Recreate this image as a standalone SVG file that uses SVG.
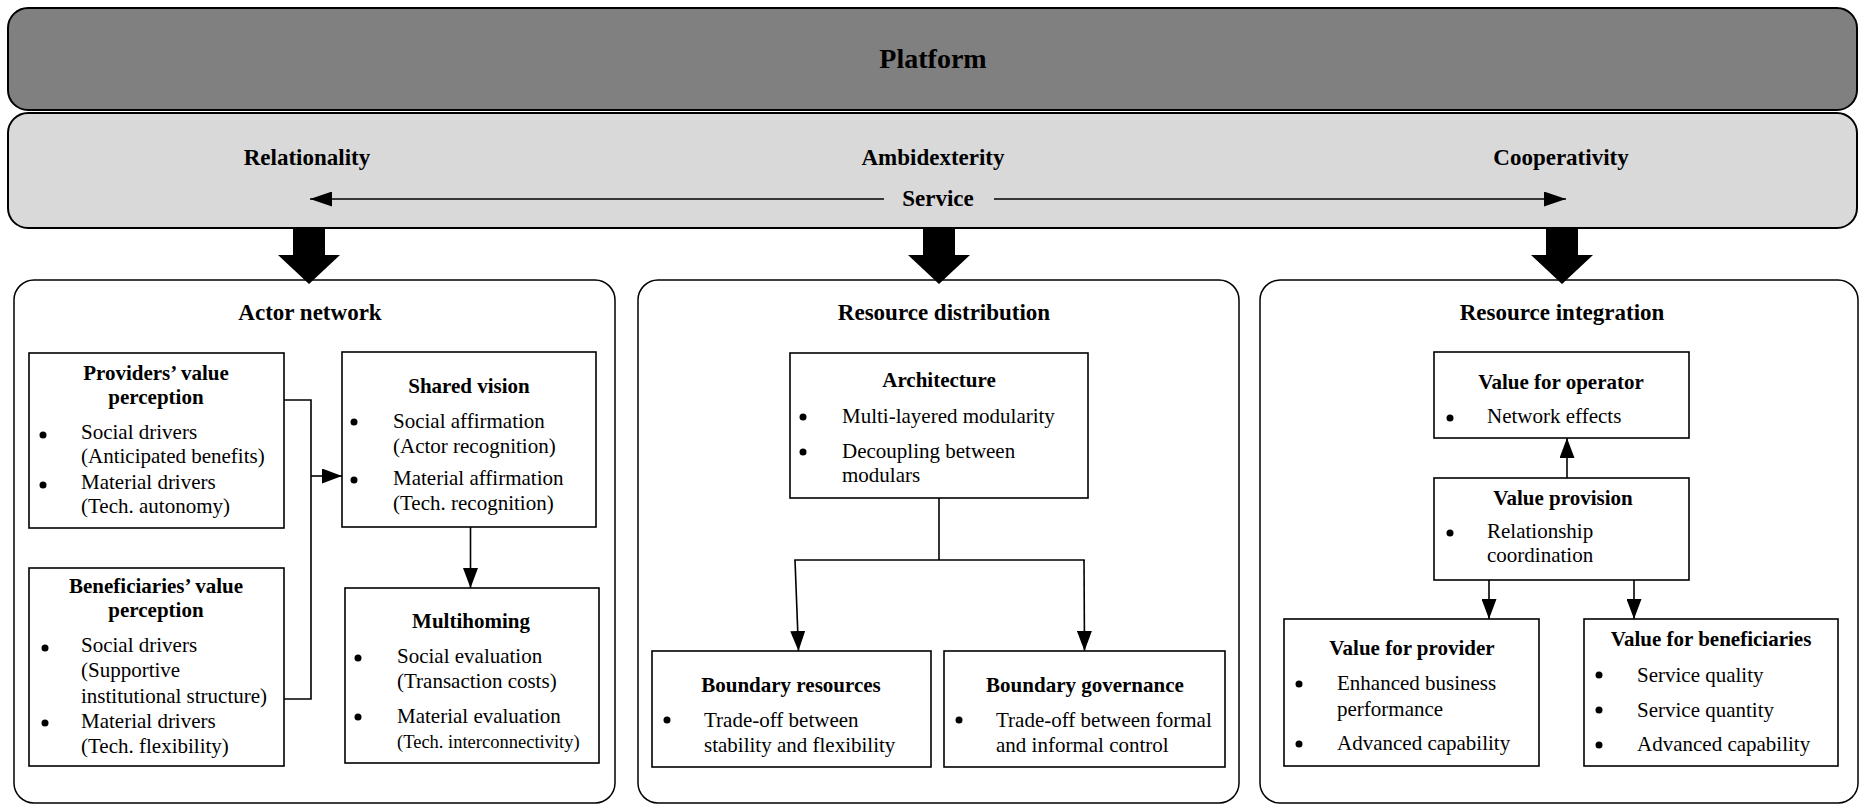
<svg xmlns="http://www.w3.org/2000/svg" width="1860" height="805" viewBox="0 0 1860 805">
<defs>
<marker id="ah" viewBox="0 0 20 15" markerWidth="20" markerHeight="15" refX="20" refY="7.5" orient="auto-start-reverse" markerUnits="userSpaceOnUse">
<path d="M0,0 L20,7.5 L0,15 z" fill="#000"/>
</marker>
<marker id="ahs" viewBox="0 0 22 15" markerWidth="22" markerHeight="15" refX="22" refY="7.5" orient="auto-start-reverse" markerUnits="userSpaceOnUse">
<path d="M0,0 L22,7.5 L0,15 z" fill="#000"/>
</marker>
<style>
text{font-family:"Liberation Serif","Times New Roman",serif;fill:#000}
.plat{font-size:28px;font-weight:bold}
.top{font-size:23px;font-weight:bold}
.sec{font-size:23px;font-weight:bold}
.ttl{font-size:21px;font-weight:bold}
.bd{font-size:21px}
.sm{font-size:18.5px}
.m{text-anchor:middle}
.box{fill:#fff;stroke:#000;stroke-width:1.6}
.sbox{fill:#fff;stroke:#000;stroke-width:1.5}
.ln{fill:none;stroke:#000;stroke-width:1.6}
.blk{fill:#000}
circle{fill:#000}
</style>
</defs>

<g id="platform">
<rect x="8" y="8" width="1849" height="102" rx="20" ry="20" fill="#808080" stroke="#000" stroke-width="2"/>
<text class="plat m" x="933" y="68">Platform</text>
</g>

<g id="service">
<rect x="8" y="113" width="1849" height="115" rx="20" ry="20" fill="#d9d9d9" stroke="#000" stroke-width="2"/>
<text class="top m" x="307" y="165">Relationality</text>
<text class="top m" x="933" y="165">Ambidexterity</text>
<text class="top m" x="1561" y="165">Cooperativity</text>
<text class="top m" x="938" y="206">Service</text>
</g>

<g id="actor-network">
<rect class="sbox" x="14" y="280" width="601" height="523" rx="20" ry="20"/>
<text class="sec m" x="310" y="320">Actor network</text>
</g>
<g id="resource-distribution">
<rect class="sbox" x="638" y="280" width="601" height="523" rx="20" ry="20"/>
<text class="sec m" x="944" y="320">Resource distribution</text>
</g>
<g id="resource-integration">
<rect class="sbox" x="1260" y="280" width="598" height="523" rx="20" ry="20"/>
<text class="sec m" x="1562" y="320">Resource integration</text>
</g>

<g id="providers">
<rect class="box" x="29" y="353" width="255" height="175"/>
<text class="ttl m" x="156" y="380">Providers’ value</text>
<text class="ttl m" x="156" y="404">perception</text>
<circle cx="43" cy="435" r="3.5"/>
<text class="bd" x="81" y="439">Social drivers</text>
<text class="bd" x="81" y="463">(Anticipated benefits)</text>
<circle cx="43" cy="485" r="3.5"/>
<text class="bd" x="81" y="489">Material drivers</text>
<text class="bd" x="81" y="513">(Tech. autonomy)</text>
</g>

<g id="beneficiaries">
<rect class="box" x="29" y="568" width="255" height="198"/>
<text class="ttl m" x="156" y="593">Beneficiaries’ value</text>
<text class="ttl m" x="156" y="617">perception</text>
<circle cx="45" cy="648" r="3.5"/>
<text class="bd" x="81" y="652">Social drivers</text>
<text class="bd" x="81" y="677">(Supportive</text>
<text class="bd" x="81" y="703">institutional structure)</text>
<circle cx="45" cy="723" r="3.5"/>
<text class="bd" x="81" y="728">Material drivers</text>
<text class="bd" x="81" y="753">(Tech. flexibility)</text>
</g>

<g id="shared-vision">
<rect class="box" x="342" y="352" width="254" height="175"/>
<text class="ttl m" x="469" y="393">Shared vision</text>
<circle cx="354" cy="422" r="3.5"/>
<text class="bd" x="393" y="428">Social affirmation</text>
<text class="bd" x="393" y="453">(Actor recognition)</text>
<circle cx="354" cy="480" r="3.5"/>
<text class="bd" x="393" y="485">Material affirmation</text>
<text class="bd" x="393" y="510">(Tech. recognition)</text>
</g>

<g id="multihoming">
<rect class="box" x="345" y="588" width="254" height="175"/>
<text class="ttl m" x="471" y="628">Multihoming</text>
<circle cx="358" cy="658" r="3.5"/>
<text class="bd" x="397" y="663">Social evaluation</text>
<text class="bd" x="397" y="688">(Transaction costs)</text>
<circle cx="358" cy="717" r="3.5"/>
<text class="bd" x="397" y="723">Material evaluation</text>
<text class="sm" x="397" y="748">(Tech. interconnectivity)</text>
</g>

<g id="architecture">
<rect class="box" x="790" y="353" width="298" height="145"/>
<text class="ttl m" x="939" y="387">Architecture</text>
<circle cx="803" cy="417" r="3.5"/>
<text class="bd" x="842" y="423">Multi-layered modularity</text>
<circle cx="803" cy="452" r="3.5"/>
<text class="bd" x="842" y="458">Decoupling between</text>
<text class="bd" x="842" y="482">modulars</text>
</g>

<g id="boundary-resources">
<rect class="box" x="652" y="651" width="279" height="116"/>
<text class="ttl m" x="791" y="692">Boundary resources</text>
<circle cx="667" cy="720" r="3.5"/>
<text class="bd" x="704" y="727">Trade-off between</text>
<text class="bd" x="704" y="752">stability and flexibility</text>
</g>

<g id="boundary-governance">
<rect class="box" x="944" y="651" width="281" height="116"/>
<text class="ttl m" x="1085" y="692">Boundary governance</text>
<circle cx="959" cy="720" r="3.5"/>
<text class="bd" x="996" y="727">Trade-off between formal</text>
<text class="bd" x="996" y="752">and informal control</text>
</g>

<g id="value-operator">
<rect class="box" x="1434" y="352" width="255" height="86"/>
<text class="ttl m" x="1561" y="389">Value for operator</text>
<circle cx="1450" cy="418" r="3.5"/>
<text class="bd" x="1487" y="423">Network effects</text>
</g>

<g id="value-provision">
<rect class="box" x="1434" y="478" width="255" height="102"/>
<text class="ttl m" x="1563" y="505">Value provision</text>
<circle cx="1450" cy="533" r="3.5"/>
<text class="bd" x="1487" y="538">Relationship</text>
<text class="bd" x="1487" y="562">coordination</text>
</g>

<g id="value-provider">
<rect class="box" x="1284" y="619" width="255" height="147"/>
<text class="ttl m" x="1412" y="655">Value for provider</text>
<circle cx="1299" cy="684" r="3.5"/>
<text class="bd" x="1337" y="690">Enhanced business</text>
<text class="bd" x="1337" y="716">performance</text>
<circle cx="1299" cy="744" r="3.5"/>
<text class="bd" x="1337" y="750">Advanced capability</text>
</g>

<g id="value-beneficiaries">
<rect class="box" x="1584" y="619" width="254" height="147"/>
<text class="ttl m" x="1711" y="646">Value for beneficiaries</text>
<circle cx="1599" cy="675" r="3.5"/>
<text class="bd" x="1637" y="682">Service quality</text>
<circle cx="1599" cy="710" r="3.5"/>
<text class="bd" x="1637" y="717">Service quantity</text>
<circle cx="1599" cy="745" r="3.5"/>
<text class="bd" x="1637" y="751">Advanced capability</text>
</g>

<g id="connectors">
<line class="ln" x1="884" y1="199" x2="310" y2="199" marker-end="url(#ahs)"/>
<line class="ln" x1="994" y1="199" x2="1566" y2="199" marker-end="url(#ahs)"/>
<polygon class="blk" points="293,228 325,228 325,255 340,255 309,284 278,255 293,255"/>
<polygon class="blk" points="923,228 955,228 955,255 970,255 939,284 908,255 923,255"/>
<polygon class="blk" points="1546,228 1578,228 1578,255 1593,255 1562,284 1531,255 1546,255"/>
<polyline class="ln" points="284,400 311,400 311,699 284,699"/>
<line class="ln" x1="311" y1="476" x2="342" y2="476" marker-end="url(#ah)"/>
<line class="ln" x1="470.5" y1="527" x2="470.5" y2="588" marker-end="url(#ah)"/>
<polyline class="ln" points="939,498 939,560"/>
<line class="ln" x1="794.2" y1="560" x2="1084.8" y2="560"/>
<line class="ln" x1="795" y1="560" x2="798.5" y2="651" marker-end="url(#ah)"/>
<line class="ln" x1="1084" y1="560" x2="1084.5" y2="651" marker-end="url(#ah)"/>
<line class="ln" x1="1567" y1="478" x2="1567" y2="438" marker-end="url(#ah)"/>
<line class="ln" x1="1489" y1="580" x2="1489" y2="619" marker-end="url(#ah)"/>
<line class="ln" x1="1634" y1="580" x2="1634" y2="619" marker-end="url(#ah)"/>
</g>
</svg>
